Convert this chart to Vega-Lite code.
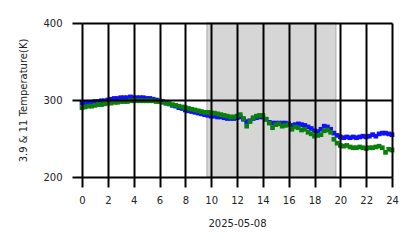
{
  "$schema": "https://vega.github.io/schema/vega-lite/v6.json",
  "width": 310,
  "height": 154,
  "autosize": {"type": "none"},
  "padding": {"left": 82, "top": 23, "right": 26, "bottom": 71},
  "background": "white",
  "config": {
    "view": {"stroke": null},
    "font": "DejaVu Sans",
    "axis": {
      "zindex": 1,
      "domain": false,
      "grid": true,
      "gridColor": "black",
      "gridWidth": 2,
      "gridOpacity": 1,
      "tickColor": "black",
      "tickWidth": 2,
      "tickSize": 10,
      "labelFont": "DejaVu Sans",
      "labelFontSize": 10,
      "labelColor": "#222222",
      "labelOverlap": false,
      "labelFlush": false,
      "titleFont": "DejaVu Sans",
      "titleFontSize": 10,
      "titleFontWeight": "normal",
      "titleColor": "#222222"
    }
  },
  "datasets": {
    "span": [{"start": 9.68, "end": 19.65}],
    "temps": [
      {"h": 0, "b": 296, "g": 290},
      {"h": 0.25, "b": 296, "g": 291},
      {"h": 0.5, "b": 297, "g": 292},
      {"h": 0.75, "b": 297, "g": 292},
      {"h": 1, "b": 298, "g": 293},
      {"h": 1.25, "b": 298, "g": 294},
      {"h": 1.5, "b": 299, "g": 294},
      {"h": 1.75, "b": 299, "g": 295},
      {"h": 2, "b": 300, "g": 296},
      {"h": 2.25, "b": 301, "g": 296},
      {"h": 2.5, "b": 302, "g": 297},
      {"h": 2.75, "b": 302, "g": 297},
      {"h": 3, "b": 303, "g": 298},
      {"h": 3.25, "b": 303, "g": 298},
      {"h": 3.5, "b": 303, "g": 298},
      {"h": 3.75, "b": 304, "g": 299},
      {"h": 4, "b": 303, "g": 299},
      {"h": 4.25, "b": 303, "g": 299},
      {"h": 4.5, "b": 303, "g": 299},
      {"h": 4.75, "b": 303, "g": 299},
      {"h": 5, "b": 302, "g": 299},
      {"h": 5.25, "b": 302, "g": 299},
      {"h": 5.5, "b": 301, "g": 299},
      {"h": 5.75, "b": 300, "g": 298},
      {"h": 6, "b": 299, "g": 298},
      {"h": 6.25, "b": 298, "g": 297},
      {"h": 6.5, "b": 296, "g": 296},
      {"h": 6.75, "b": 295, "g": 295},
      {"h": 7, "b": 293, "g": 294},
      {"h": 7.25, "b": 292, "g": 293},
      {"h": 7.5, "b": 290, "g": 292},
      {"h": 7.75, "b": 289, "g": 291},
      {"h": 8, "b": 287, "g": 290},
      {"h": 8.25, "b": 286, "g": 289},
      {"h": 8.5, "b": 285, "g": 288},
      {"h": 8.75, "b": 284, "g": 287},
      {"h": 9, "b": 283, "g": 286},
      {"h": 9.25, "b": 282, "g": 285},
      {"h": 9.5, "b": 281, "g": 284},
      {"h": 9.75, "b": 280, "g": 284},
      {"h": 10, "b": 279, "g": 283},
      {"h": 10.25, "b": 279, "g": 283},
      {"h": 10.5, "b": 278, "g": 282},
      {"h": 10.75, "b": 278, "g": 281},
      {"h": 11, "b": 277, "g": 280},
      {"h": 11.25, "b": 276, "g": 279},
      {"h": 11.5, "b": 276, "g": 278},
      {"h": 11.75, "b": 276, "g": 278},
      {"h": 12, "b": 277, "g": 279},
      {"h": 12.25, "b": 278, "g": 281},
      {"h": 12.5, "b": 275, "g": 276},
      {"h": 12.75, "b": 272, "g": 266},
      {"h": 13, "b": 273, "g": 272},
      {"h": 13.25, "b": 276, "g": 277},
      {"h": 13.5, "b": 277, "g": 279},
      {"h": 13.75, "b": 278, "g": 280},
      {"h": 14, "b": 278, "g": 280},
      {"h": 14.25, "b": 275, "g": 275},
      {"h": 14.5, "b": 271, "g": 270},
      {"h": 14.75, "b": 270, "g": 264},
      {"h": 15, "b": 270, "g": 268},
      {"h": 15.25, "b": 270, "g": 269},
      {"h": 15.5, "b": 270, "g": 266},
      {"h": 15.75, "b": 270, "g": 267},
      {"h": 16, "b": 269, "g": 268},
      {"h": 16.25, "b": 267, "g": 262},
      {"h": 16.5, "b": 268, "g": 265},
      {"h": 16.75, "b": 269, "g": 264},
      {"h": 17, "b": 268, "g": 261},
      {"h": 17.25, "b": 267, "g": 262},
      {"h": 17.5, "b": 265, "g": 258},
      {"h": 17.75, "b": 263, "g": 256},
      {"h": 18, "b": 260, "g": 253},
      {"h": 18.25, "b": 259, "g": 254},
      {"h": 18.5, "b": 262, "g": 255},
      {"h": 18.75, "b": 266, "g": 260},
      {"h": 19, "b": 265, "g": 261},
      {"h": 19.25, "b": 262, "g": 258},
      {"h": 19.5, "b": 257, "g": 249},
      {"h": 19.75, "b": 254, "g": 244},
      {"h": 20, "b": 252, "g": 241},
      {"h": 20.25, "b": 251, "g": 240},
      {"h": 20.5, "b": 252, "g": 241},
      {"h": 20.75, "b": 251, "g": 239},
      {"h": 21, "b": 252, "g": 238},
      {"h": 21.25, "b": 251, "g": 238},
      {"h": 21.5, "b": 252, "g": 239},
      {"h": 21.75, "b": 253, "g": 238},
      {"h": 22, "b": 252, "g": 237},
      {"h": 22.25, "b": 253, "g": 238},
      {"h": 22.5, "b": 255, "g": 238},
      {"h": 22.75, "b": 253, "g": 239},
      {"h": 23, "b": 256, "g": 240},
      {"h": 23.25, "b": 257, "g": 238},
      {"h": 23.5, "b": 257, "g": 232},
      {"h": 23.75, "b": 256, "g": 236},
      {"h": 24, "b": 255, "g": 235}
    ]
  },
  "layer": [
    {
      "data": {"name": "span"},
      "mark": {"type": "rect", "color": "#d6d6d6", "stroke": "#bdbdbd", "strokeWidth": 1.5},
      "encoding": {
        "x": {
          "field": "start", "type": "quantitative",
          "scale": {"domain": [0, 24], "nice": false, "zero": false},
          "axis": {"zindex": 1, "values": [0, 2, 4, 6, 8, 10, 12, 14, 16, 18, 20, 22, 24], "title": "2025-05-08", "labelPadding": 8, "titleBaseline": "top", "titleY": 41, "labelAngle": 0}
        },
        "x2": {"field": "end"}
      }
    },
    {
      "data": {"name": "temps"},
      "mark": {"type": "point", "shape": "square", "filled": true, "size": 22, "opacity": 1, "color": "#1010ff"},
      "encoding": {
        "x": {
          "field": "h", "type": "quantitative",
          "scale": {"domain": [0, 24], "nice": false, "zero": false},
          "axis": {"zindex": 1, "values": [0, 2, 4, 6, 8, 10, 12, 14, 16, 18, 20, 22, 24], "title": "2025-05-08", "labelPadding": 8, "titleBaseline": "top", "titleY": 41, "labelAngle": 0}
        },
        "y": {
          "field": "b", "type": "quantitative",
          "scale": {"domain": [200, 400], "nice": false, "zero": false},
          "axis": {"zindex": 1, "values": [200, 300, 400], "title": "3.9 & 11 Temperature(K)", "labelPadding": 10, "titlePadding": 14}
        }
      }
    },
    {
      "data": {"name": "temps"},
      "mark": {"type": "point", "shape": "square", "filled": true, "size": 22, "opacity": 1, "color": "#0a800a"},
      "encoding": {
        "x": {
          "field": "h", "type": "quantitative",
          "axis": {"zindex": 1, "values": [0, 2, 4, 6, 8, 10, 12, 14, 16, 18, 20, 22, 24], "title": "2025-05-08", "labelPadding": 8, "titleBaseline": "top", "titleY": 41, "labelAngle": 0}
        },
        "y": {
          "field": "g", "type": "quantitative",
          "axis": {"zindex": 1, "values": [200, 300, 400], "title": "3.9 & 11 Temperature(K)", "labelPadding": 10, "titlePadding": 14}
        }
      }
    }
  ]
}
